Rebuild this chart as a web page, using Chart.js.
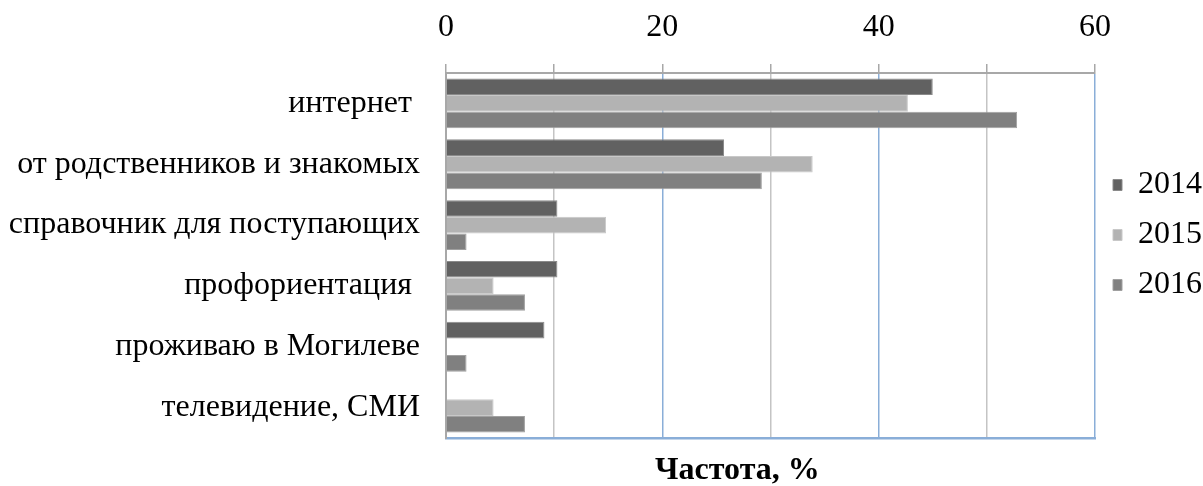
<!DOCTYPE html>
<html>
<head>
<meta charset="utf-8">
<script src="https://cdn.jsdelivr.net/npm/chart.js@4"></script>
<style>
html,body{margin:0;padding:0;background:#fff;}
#wrap{width:1203px;height:486px;position:relative;}
</style>
</head>
<body>
<div id="wrap"><canvas id="c"></canvas></div>
<script>
const categories = ['интернет ', 'от родственников и знакомых', 'справочник для поступающих', 'профориентация ', 'проживаю в Могилеве', 'телевидение, СМИ'];
const seriesNames = ['2014', '2015', '2016'];
const values2014 = [45.0, 25.7, 10.3, 10.3, 9.1, 0];
const values2015 = [42.7, 33.9, 14.8, 4.4, 0, 4.4];
const values2016 = [52.8, 29.2, 1.9, 7.3, 1.9, 7.3];
const xTicks = [0, 10, 20, 30, 40, 50, 60];
const axisTitle = 'Частота, %';

const FONT = "'Liberation Serif', 'Times New Roman', serif";
const BLUE = '#8aaed8';
const GRAY = '#c4c4c4';

const titlePlugin = {
  id: 'bottomTitle',
  afterDraw(chart) {
    const ctx = chart.ctx;
    const a = chart.chartArea;
    ctx.save();
    ctx.font = "bold 32px " + FONT;
    ctx.fillStyle = '#000';
    ctx.textAlign = 'center';
    ctx.textBaseline = 'middle';
    ctx.fillText(axisTitle, a.left + (a.right - a.left) * 0.449, a.bottom + 33);
    ctx.restore();
  }
};

new Chart(document.getElementById('c'), {
  type: 'bar',
  data: {
    labels: categories,
    datasets: [
      {label: seriesNames[0], data: values2014, backgroundColor: '#616161', borderColor: '#8a8a8a', borderWidth: 1},
      {label: seriesNames[1], data: values2015, backgroundColor: '#b3b3b3', borderColor: '#c8c8c8', borderWidth: 1},
      {label: seriesNames[2], data: values2016, backgroundColor: '#808080', borderColor: '#a0a0a0', borderWidth: 1}
    ]
  },
  options: {
    indexAxis: 'y',
    responsive: true,
    maintainAspectRatio: false,
    animation: false,
    devicePixelRatio: 1,
    layout: {padding: {left: 0, right: -9, top: 0, bottom: 16}},
    datasets: {bar: {categoryPercentage: 0.82, barPercentage: 1.0}},
    scales: {
      x: {
        position: 'top',
        min: 0, max: 60,
        afterBuildTicks(scale) { scale.ticks = xTicks.map(v => ({value: v})); },
        afterFit(scale) { scale.height = 73; },
        ticks: {
          font: {family: FONT, size: 32},
          color: '#000',
          padding: 17,
          callback: (v) => (v % 20 === 0 ? String(v) : '')
        },
        grid: {
          color: (ctx) => (ctx.tick && ctx.tick.value % 20 === 0 && ctx.tick.value !== 0 ? BLUE : GRAY),
          tickColor: '#a8a8a8',
          tickLength: 9,
          lineWidth: 1.5
        },
        border: {color: '#a8a8a8', width: 2}
      },
      x2: {
        position: 'bottom',
        axis: 'x',
        min: 0, max: 60,
        afterFit(scale) { scale.height = 32; },
        ticks: {display: false},
        grid: {display: false, drawTicks: false},
        border: {color: BLUE, width: 2.5}
      },
      y: {
        afterFit(scale) { scale.width = 446; },
        ticks: {
          font: {family: FONT, size: 32},
          color: '#000',
          padding: 26
        },
        grid: {display: false, drawTicks: false},
        border: {color: '#a8a8a8', width: 2}
      }
    },
    plugins: {
      legend: {
        position: 'right',
        labels: {
          font: {family: FONT, size: 32},
          color: '#000',
          boxWidth: 9,
          boxHeight: 11,
          padding: 18
        }
      },
      tooltip: {enabled: false},
      title: {display: false}
    }
  },
  plugins: [titlePlugin]
});
</script>
</body>
</html>
